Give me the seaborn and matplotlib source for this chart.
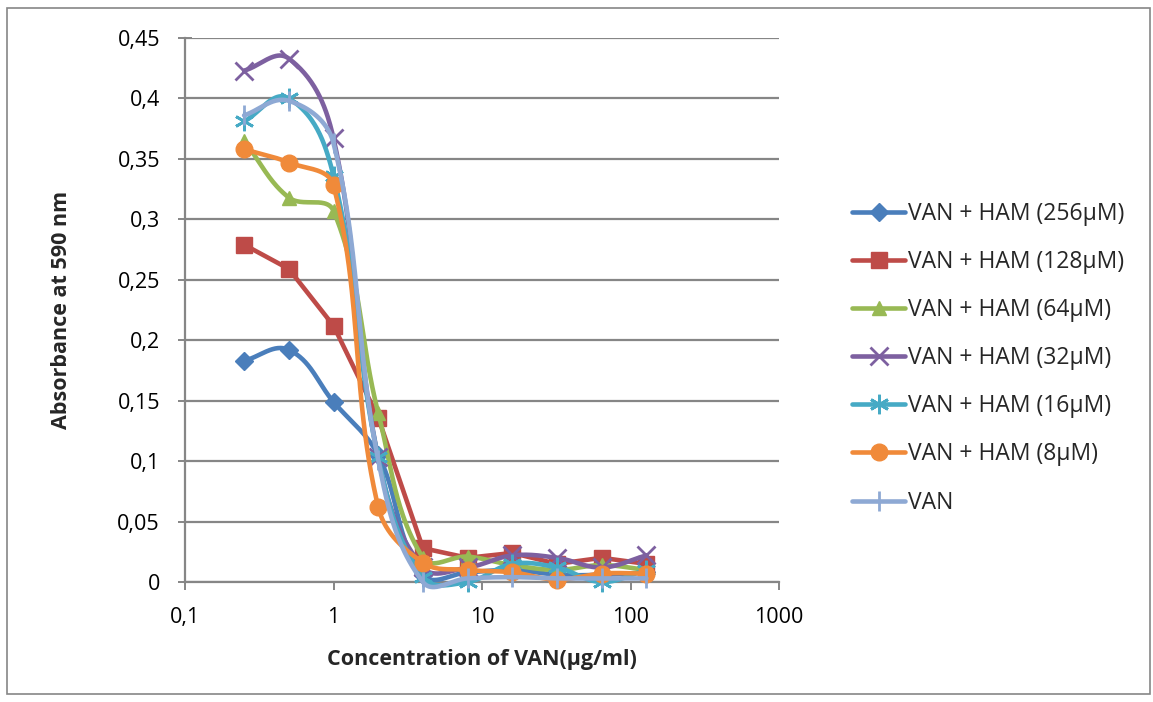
import numpy as np
import pandas as pd
import matplotlib
matplotlib.use("Agg")
import matplotlib.pyplot as plt
from matplotlib.lines import Line2D
import seaborn as sns

# ---- data ----
conc = [0.25, 0.5, 1, 2, 4, 8, 16, 32, 64, 128]
ham256 = [0.183, 0.192, 0.149, 0.105, 0.006, 0.008, 0.010, 0.006, 0.006, 0.008]
ham128 = [0.279, 0.259, 0.212, 0.136, 0.028, 0.020, 0.024, 0.015, 0.020, 0.015]
ham64 = [0.365, 0.318, 0.307, 0.140, 0.020, 0.021, 0.014, 0.010, 0.014, 0.010]
ham32 = [0.423, 0.433, 0.367, 0.103, 0.012, 0.012, 0.022, 0.020, 0.012, 0.022]
ham16 = [0.381, 0.400, 0.336, 0.103, 0.004, 0.000, 0.015, 0.012, 0.000, 0.010]
ham8 = [0.358, 0.347, 0.328, 0.062, 0.016, 0.010, 0.008, 0.002, 0.007, 0.007]
van = [0.386, 0.398, 0.363, 0.101, 0.000, 0.003, 0.004, 0.003, 0.003, 0.003]

labels = ["VAN + HAM (256µM)", "VAN + HAM (128µM)", "VAN + HAM (64µM)",
          "VAN + HAM (32µM)", "VAN + HAM (16µM)", "VAN + HAM (8µM)", "VAN"]
series = [ham256, ham128, ham64, ham32, ham16, ham8, van]
smooth = [True, False, True, True, True, True, True]

colors = ["#4A7EBB", "#BE4B48", "#98B954", "#7D60A0", "#46AAC5", "#F08A3A", "#8EA9D4"]
markers = ["D", "s", "^", "x", (6, 2, 0), "o", "|"]
msizes = [9, 11, 10, 13, 14, 12, 14]

y_ticks = [0, 0.05, 0.1, 0.15, 0.2, 0.25, 0.3, 0.35, 0.4, 0.45]
y_ticklabels = ["0", "0,05", "0,1", "0,15", "0,2", "0,25", "0,3", "0,35", "0,4", "0,45"]
x_ticks = [0.1, 1, 10, 100, 1000]
x_ticklabels = ["0,1", "1", "10", "100", "1000"]

# ---- smoothing (Excel-like Bezier, handles scaled by segment length) ----
SX, SY = 148.5, 1209.0  # px per decade, px per unit


def smooth_curve(xs, ys, n=50, k=0.36):
    u = np.log10(np.asarray(xs, float)) * SX
    v = np.asarray(ys, float) * SY
    P = np.column_stack([u, v])
    m = len(P)
    T = []
    for i in range(m):
        a = P[i - 1] if i > 0 else P[i]
        b = P[i + 1] if i < m - 1 else P[i]
        d = b - a
        T.append(d / (np.hypot(*d) + 1e-12))
    out = []
    for i in range(m - 1):
        p1, p2 = P[i], P[i + 1]
        L = np.hypot(*(p2 - p1))
        c1 = p1 + T[i] * L * k
        c2 = p2 - T[i + 1] * L * k
        t = np.linspace(0, 1, n)[:, None]
        seg = ((1 - t) ** 3) * p1 + 3 * ((1 - t) ** 2) * t * c1 + 3 * (1 - t) * t ** 2 * c2 + t ** 3 * p2
        out.append(seg if i == 0 else seg[1:])
    S = np.vstack(out)
    return 10 ** (S[:, 0] / SX), S[:, 1] / SY


sns.set_theme(style="white")
plt.rcParams['font.family'] = ['Open Sans', 'DejaVu Sans']

fig = plt.figure(figsize=(11.53, 7.02), dpi=100)
ax = fig.add_axes([185 / 1153, (702 - 582) / 702, (779 - 185) / 1153, 544 / 702])

handles = []
for i, (ys, lab) in enumerate(zip(series, labels)):
    if smooth[i]:
        xs_s, ys_s = smooth_curve(conc, ys)
    else:
        xs_s, ys_s = np.asarray(conc, float), np.asarray(ys, float)
    df = pd.DataFrame({"x": xs_s, "y": ys_s})
    sns.lineplot(data=df, x="x", y="y", ax=ax, color=colors[i], lw=3.3,
                 sort=False, estimator=None, clip_on=False, zorder=3 + i,
                 solid_capstyle="round", solid_joinstyle="round", legend=False)
    mk = markers[i]
    filled = mk not in ("x", "|") and not isinstance(mk, tuple)
    ax.plot(conc, ys, linestyle="none", marker=mk, ms=msizes[i],
            color=colors[i], mec=colors[i], mew=2 if not filled else 1,
            clip_on=False, zorder=3 + i)
    handles.append(Line2D([0], [0], color=colors[i], lw=3.3, marker=mk,
                          ms=msizes[i], mew=2 if not filled else 1,
                          solid_capstyle="round"))

ax.set_xscale("log")
ax.set_xlim(0.1, 1000)
ax.set_ylim(0, 0.45)
ax.set_xticks(x_ticks)
ax.set_xticklabels(x_ticklabels)
ax.xaxis.set_minor_locator(matplotlib.ticker.NullLocator())
ax.set_yticks(y_ticks)
ax.set_yticklabels(y_ticklabels)

ax.grid(axis="y", color="#868686", lw=1.6)
ax.grid(axis="x", visible=False)
ax.set_axisbelow(True)
for s in ["top", "right"]:
    ax.spines[s].set_visible(False)
for s in ["left", "bottom"]:
    ax.spines[s].set_color("#868686")
    ax.spines[s].set_linewidth(1.6)

ax.tick_params(axis="y", direction="inout", length=10, width=1.4, color="#868686",
               labelsize=15.5, pad=13, left=True)
ax.tick_params(axis="x", direction="out", length=6, width=1.4, color="#868686",
               labelsize=15.5, pad=12, bottom=True)
for t in ax.get_xticklabels() + ax.get_yticklabels():
    t.set_color("black")

ax.set_xlabel("Concentration of VAN(µg/ml)", fontsize=15.5, fontweight="bold", labelpad=15)
ax.set_ylabel("Absorbance at 590 nm", fontsize=15.5, fontweight="bold", labelpad=33)

leg = fig.legend(handles, labels, loc="upper left", bbox_to_anchor=(843 / 1153, 1 - 193 / 702),
                 frameon=False, fontsize=16.5, handlelength=2.3, handletextpad=0.15,
                 labelspacing=1.05, borderaxespad=0)

# chart-area border
fig.add_artist(plt.Rectangle((7 / 1153, 8 / 702), 1143 / 1153, 686 / 702,
                             transform=fig.transFigure, fill=False,
                             edgecolor="#868686", lw=1.2))

fig.savefig("out.png", dpi=100)
